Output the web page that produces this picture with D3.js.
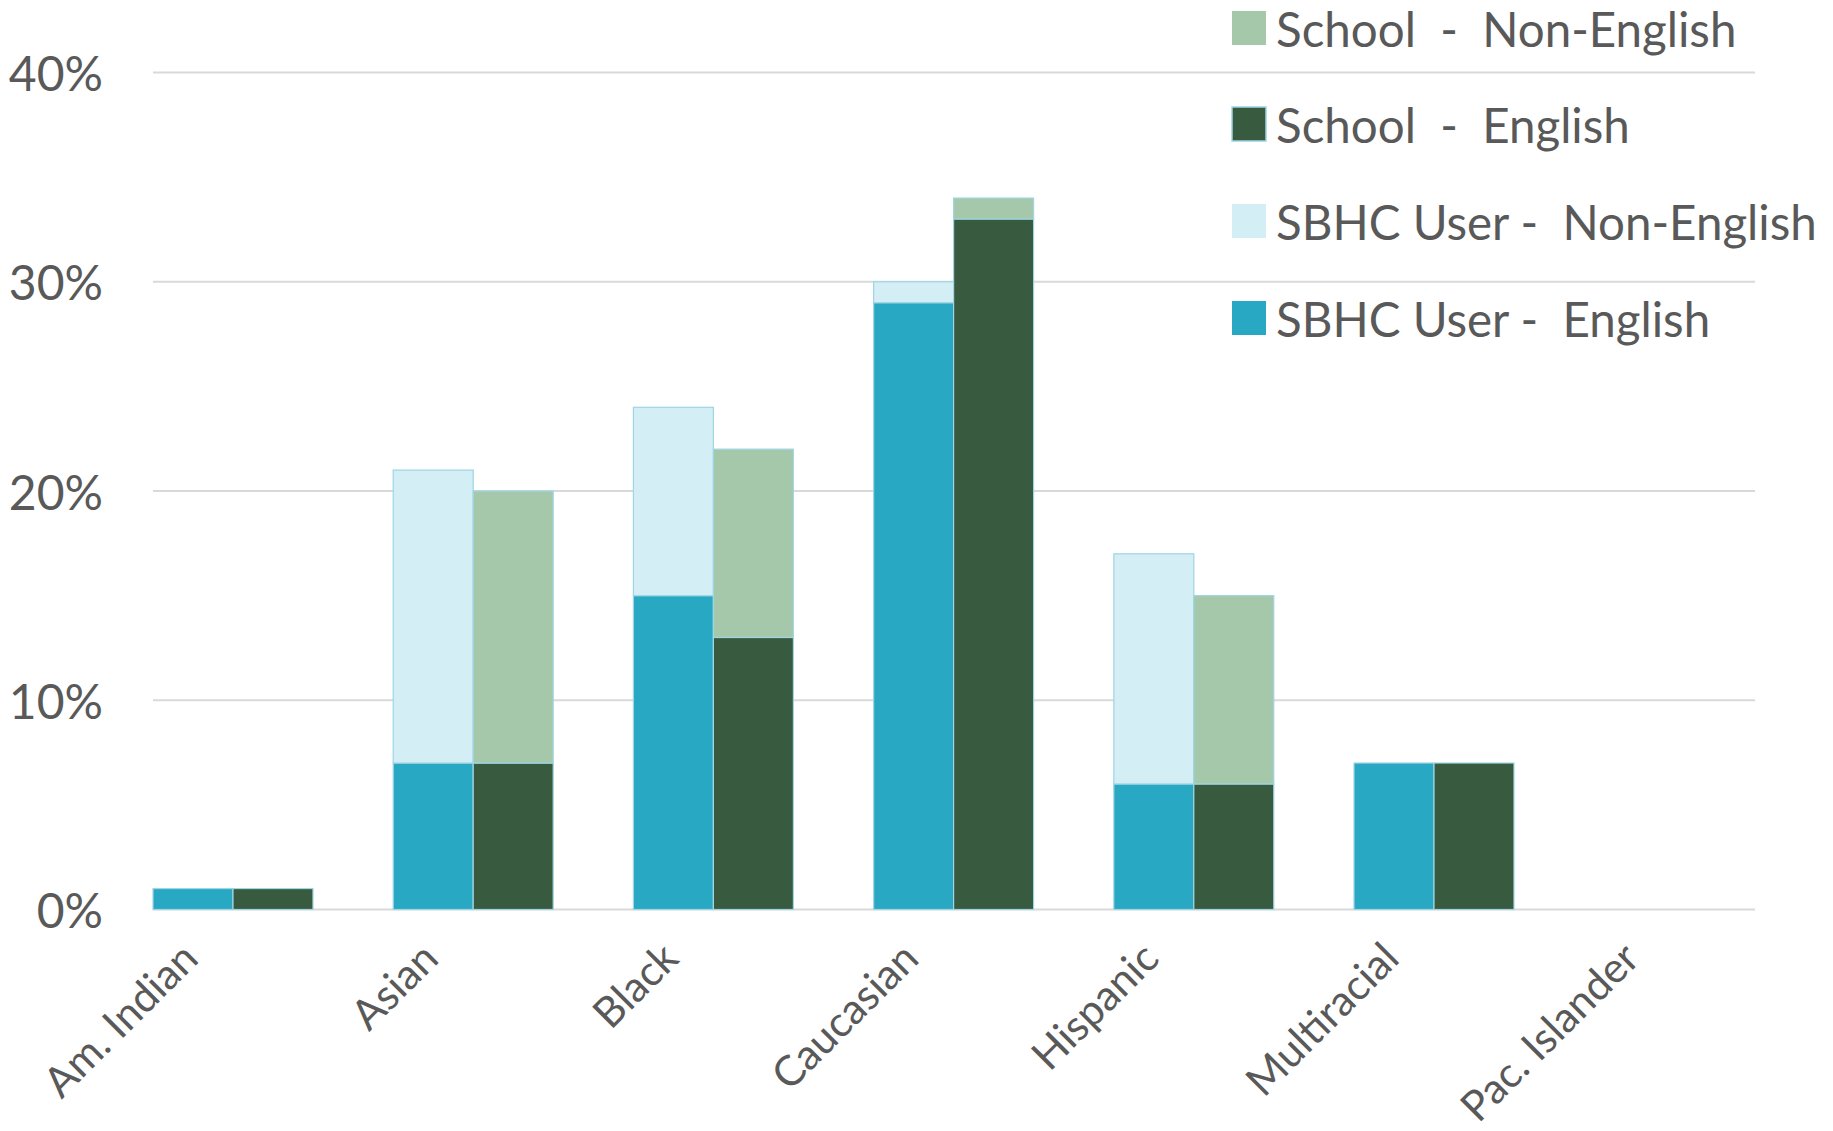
<!DOCTYPE html>
<html>
<head>
<meta charset="utf-8">
<script src="https://cdn.jsdelivr.net/npm/d3@7"></script>
<style>
  html, body { margin: 0; padding: 0; background: #fff; }
  svg { display: block; }
  text { font-family: Lato, "Open Sans", sans-serif; fill: #595959; }
</style>
</head>
<body>
<svg id="chart" width="1833" height="1131"></svg>
<script>
const categories = ["Am. Indian", "Asian", "Black", "Caucasian", "Hispanic", "Multiracial", "Pac. Islander"];
const sbhcEnglish    = [1, 7, 15, 29, 6, 7, 0];
const sbhcNonEnglish = [0, 14, 9, 1, 11, 0, 0];
const schoolEnglish    = [1, 7, 13, 33, 6, 7, 0];
const schoolNonEnglish = [0, 13, 9, 1, 9, 0, 0];
const yTicks = [0, 10, 20, 30, 40];
const legendLabels = ["School  -  Non-English", "School  -  English", "SBHC User -  Non-English", "SBHC User -  English"];

const colors = {
  sbhcEng: "#29A8C4",
  sbhcNon: "#D3EEF4",
  schEng: "#385A3E",
  schNon: "#A6C8AA"
};

const svg = d3.select("#chart");
const gridLeft = 153, gridRight = 1755;
const y = d3.scaleLinear().domain([0, 40]).range([909.5, 72.5]);
const x = d3.scaleBand().domain(categories).range([112.9, 1794.3]).paddingInner(0.334).paddingOuter(0.167);
const groups = ["sbhc", "school"];
const xs = d3.scaleBand().domain(groups).range([0, x.bandwidth()]).padding(0);

// gridlines
svg.append("g").selectAll("line").data(yTicks).join("line")
  .attr("x1", gridLeft).attr("x2", gridRight)
  .attr("y1", d => y(d)).attr("y2", d => y(d))
  .attr("stroke", "#D9D9D9").attr("stroke-width", 2);

// y labels
svg.append("g").selectAll("text").data(yTicks).join("text")
  .attr("x", 103).attr("y", d => y(d))
  .attr("text-anchor", "end").attr("dominant-baseline", "central")
  .attr("font-size", 48)
  .text(d => d + "%");

// build stacked series
const stackData = categories.map((c, i) => ({
  cat: c,
  sbhc: [
    { key: "sbhcEng", v0: 0, v1: sbhcEnglish[i] },
    { key: "sbhcNon", v0: sbhcEnglish[i], v1: sbhcEnglish[i] + sbhcNonEnglish[i] }
  ],
  school: [
    { key: "schEng", v0: 0, v1: schoolEnglish[i] },
    { key: "schNon", v0: schoolEnglish[i], v1: schoolEnglish[i] + schoolNonEnglish[i] }
  ]
}));

const gCat = svg.append("g").selectAll("g").data(stackData).join("g")
  .attr("transform", d => `translate(${x(d.cat)},0)`);

groups.forEach(gname => {
  gCat.selectAll("rect." + gname)
    .data(d => d[gname].filter(s => s.v1 > s.v0))
    .join("rect")
    .attr("class", gname)
    .attr("x", xs(gname))
    .attr("width", xs.bandwidth())
    .attr("y", s => y(s.v1))
    .attr("height", s => y(s.v0) - y(s.v1))
    .attr("fill", s => colors[s.key])
    .attr("stroke", "#9FD5E4")
    .attr("stroke-width", 1.2);
});

// x labels rotated
svg.append("g").selectAll("text").data(categories).join("text")
  .attr("transform", d => `translate(${x(d) + x.bandwidth() / 2 - 44},${y(0) + 40}) rotate(-45)`)
  .attr("text-anchor", "end")
  .attr("dominant-baseline", "central")
  .attr("font-size", 42)
  .text(d => d);

// legend
const legendKeys = ["schNon", "schEng", "sbhcNon", "sbhcEng"];
const legY = [28, 124, 221, 318];
const leg = svg.append("g").selectAll("g").data(legendLabels).join("g")
  .attr("transform", (d, i) => `translate(1232,${legY[i]})`);
leg.append("rect")
  .attr("x", 0).attr("y", -17).attr("width", 34).attr("height", 34)
  .attr("fill", (d, i) => colors[legendKeys[i]])
  .attr("stroke", (d, i) => legendKeys[i] === "schEng" ? "#9FD5E4" : "none")
  .attr("stroke-width", 1.5);
leg.append("text")
  .attr("x", 44).attr("y", 0)
  .attr("dominant-baseline", "central")
  .attr("font-size", 47.5)
  .attr("xml:space", "preserve")
  .style("white-space", "pre")
  .text(d => d);
</script>
</body>
</html>
